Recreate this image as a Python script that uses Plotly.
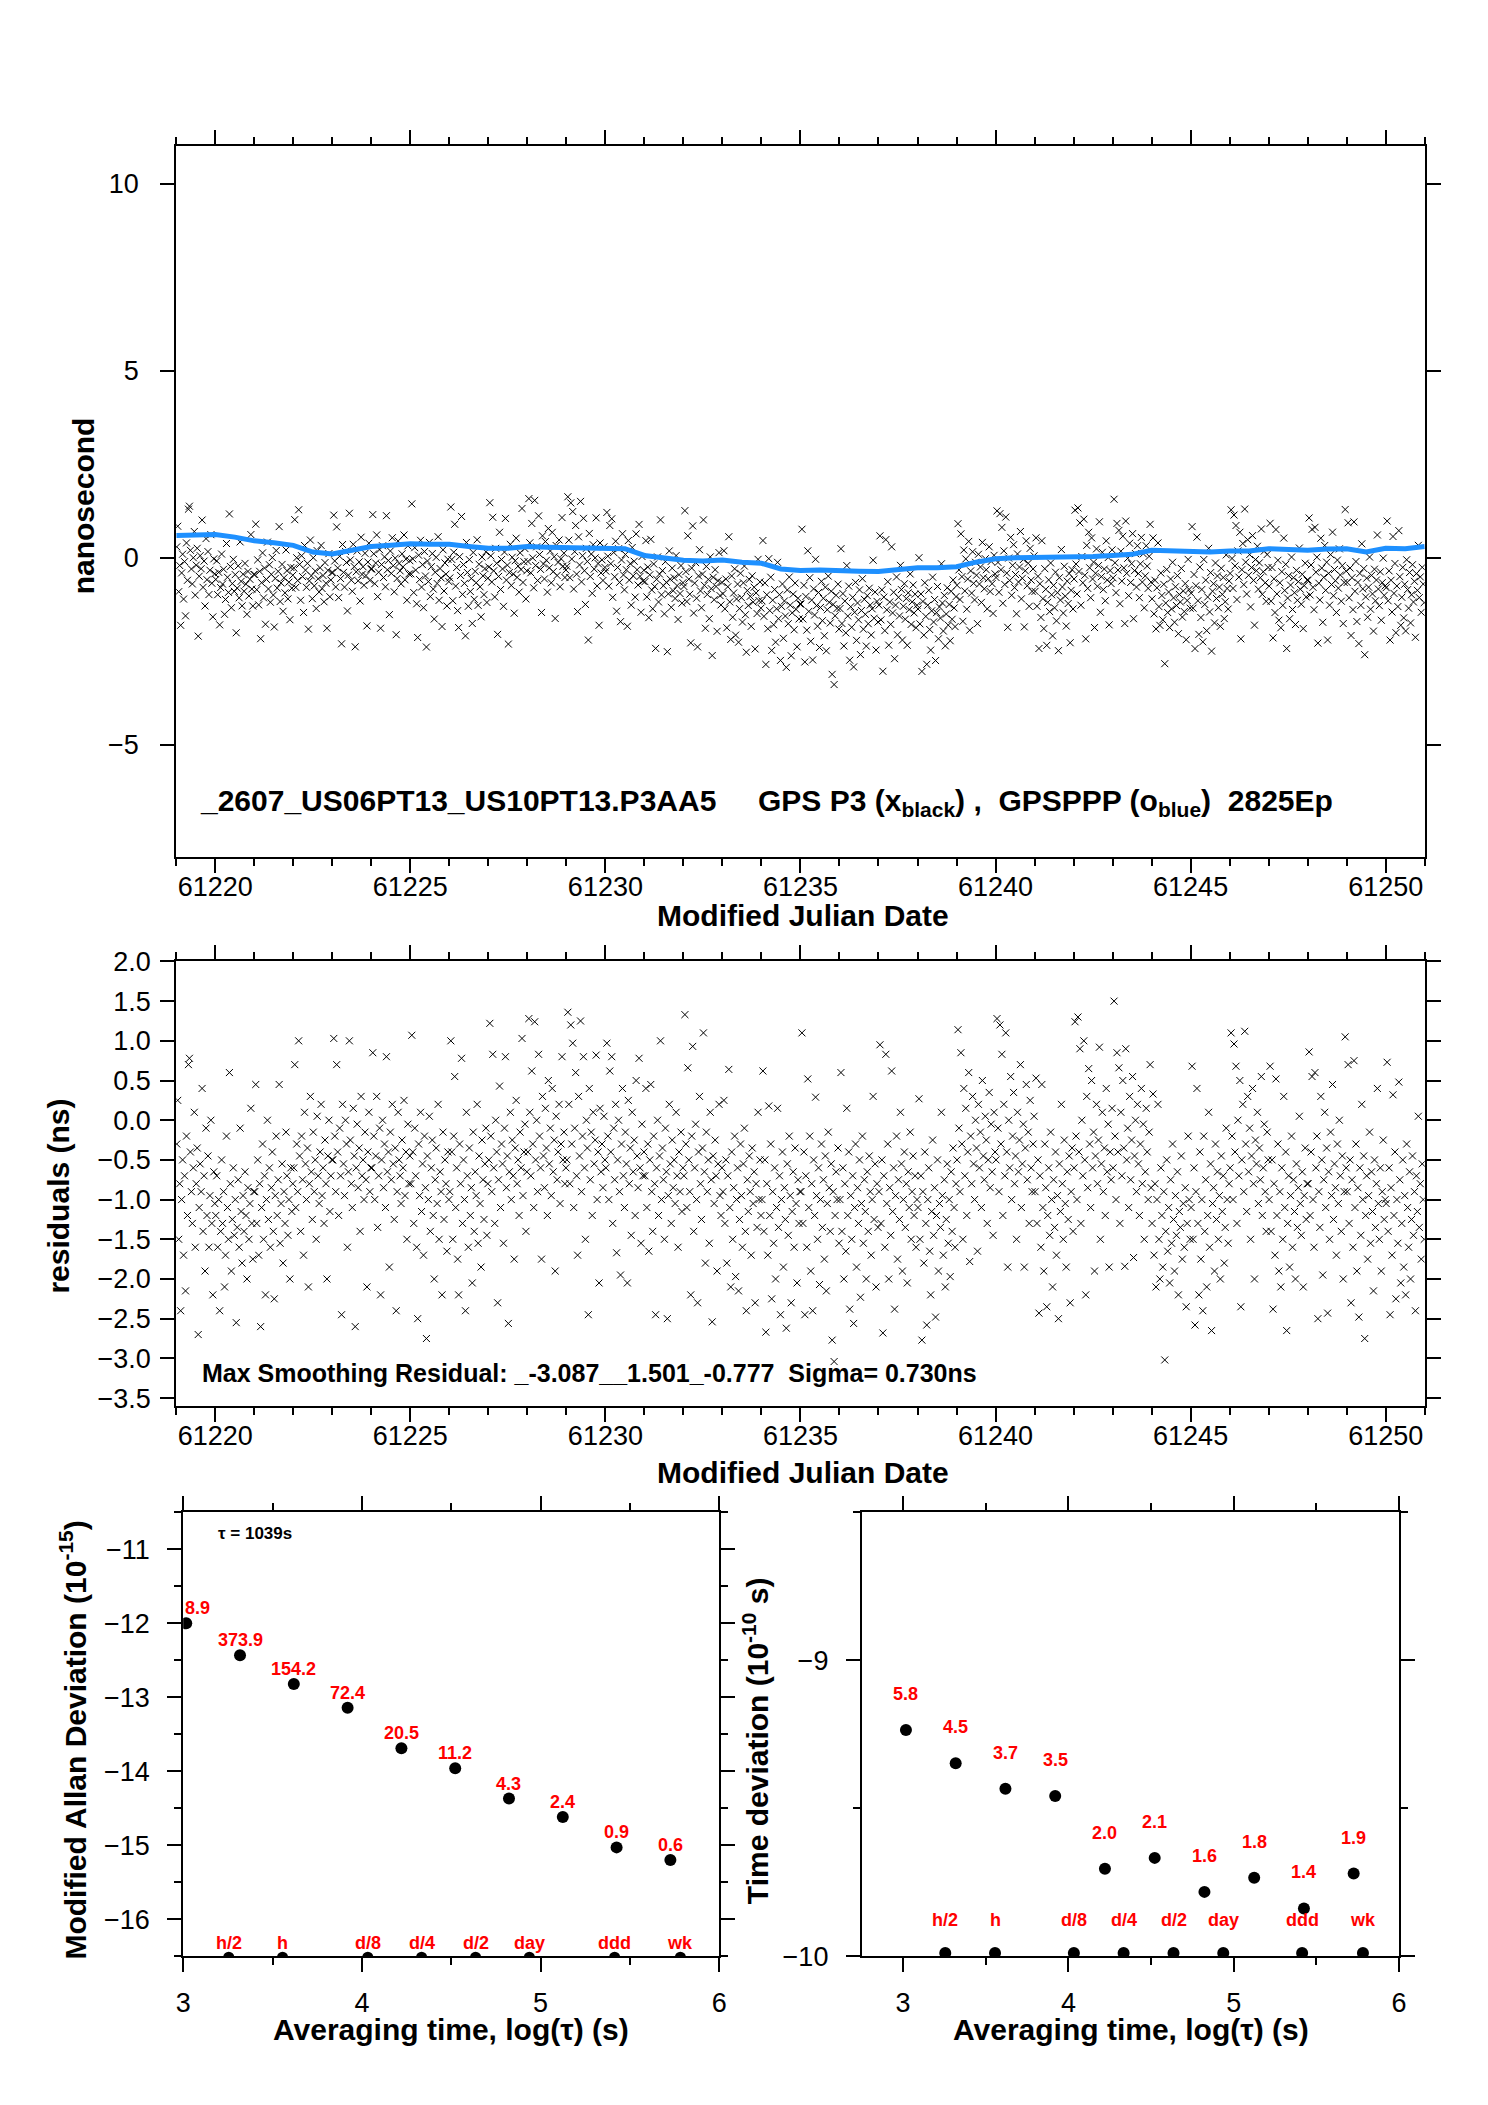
import numpy as np
import plotly.graph_objects as go

# ---------------- data ----------------
mjd_start, mjd_end = 61219.0, 61251.0

# smoothing (GPSPPP, blue) every half day, ns
smooth_mjd = [61219 + 0.5 * k for k in range(65)]
smooth_ns = [0.59, 0.60, 0.62, 0.55, 0.45, 0.40, 0.33, 0.15, 0.10, 0.20,
             0.30, 0.33, 0.37, 0.36, 0.36, 0.30, 0.25, 0.25, 0.30, 0.28,
             0.27, 0.25, 0.24, 0.24, 0.06, 0.00, -0.07, -0.09, -0.06, -0.12,
             -0.15, -0.30, -0.34, -0.33, -0.36, -0.36, -0.37, -0.31, -0.27, -0.27,
             -0.24, -0.12, -0.03, 0.00, 0.00, 0.01, 0.03, 0.03, 0.06, 0.09,
             0.20, 0.18, 0.15, 0.15, 0.18, 0.18, 0.24, 0.22, 0.20, 0.23,
             0.24, 0.15, 0.25, 0.24, 0.30]

# smoothing residuals (ns), one row per day 61219 ... 61250
residual_ns = [
    -0.3, 0.25, -1.5, -0.8, -2.4, -1.0, -0.5, -1.7, -0.7, -2.15, -0.2, -1.2, 0.7, 0.78, -0.4, -0.9, -1.3, -0.6, 0.1, -1.6, -0.8, -0.35, -2.7, -1.1, -0.55, -0.9, 0.4, -1.4, -0.7, -1.9, -0.1, -1.2, -0.45, -1.6, -0.95, 0.0, -1.3, -2.2, -0.65, -1.05,
    -1.2, -0.7, -1.6, -1.0, -2.4, -1.4, -0.5, -1.3, -0.9, -2.1, -1.7, -0.2, -1.1, -1.5, 0.6, -0.8, -1.9, -1.25, -0.6, -1.45, -1.0, -2.55, -1.35, -0.75, -1.6, -0.1, -1.15, -1.8, -0.95, -1.4, -0.65, -1.2, -2.0, -0.85, -1.5, -1.05, 0.15, -1.3, -1.75, -0.9,
    -0.9, 0.45, -1.3, -0.5, -1.7, -0.8, -2.6, -1.1, -0.3, -1.5, -0.7, -2.2, -1.0, 0.0, -1.25, -0.6, -1.6, -0.85, -0.4, -1.4, -2.25, -0.95, -0.2, -1.2, -0.75, 0.45, -1.55, -1.05, -0.55, -1.8, -0.9, -1.3, -0.15, -0.7, -1.45, -1.0, -2.0, -0.6, -1.15, -0.8,
    -0.6, 0.7, -1.1, -0.3, -0.9, 1.0, -0.45, -1.4, -0.2, -0.75, -1.7, 0.1, -0.55, -1.0, -0.35, -2.1, -0.8, 0.3, -0.65, -1.25, -0.15, -0.9, -0.5, -1.5, 0.05, -0.7, -1.05, -0.4, 0.2, -0.95, -0.6, -1.3, -0.25, -0.8, -2.0, -0.45, 0.0, -1.15, -0.7, -0.5,
    -0.5, 1.03, -0.2, -0.9, 0.7, -0.4, -1.2, -0.1, -0.7, -2.45, 0.2, -0.55, -0.95, 0.0, -0.3, -1.6, -0.65, 1.0, -0.25, -0.8, -1.1, 0.15, -0.45, -2.6, -0.6, -0.05, -0.85, -0.35, -1.4, 0.3, -0.7, -0.5, -1.0, -0.15, -0.75, -2.1, -0.4, 0.1, -0.9, -0.6,
    -0.6, 0.85, -0.2, -1.0, -0.45, 0.3, -1.35, -0.7, -0.1, -2.2, -0.5, 0.0, -0.85, -0.3, -1.1, 0.8, -0.65, -0.4, -1.85, -0.15, -0.75, 0.2, -0.55, -1.25, -0.35, -2.4, -0.9, 0.1, -0.5, -0.7, -1.05, -0.25, -0.6, 0.25, -0.95, -0.4, -1.5, -0.05, -0.8, -0.45,
    -0.8, 1.07, -0.4, -1.3, -0.1, -0.7, -1.6, -2.5, -0.3, -0.95, 0.1, -1.15, -0.55, -1.7, -0.2, -0.85, -2.75, -0.45, -1.0, 0.05, -1.4, -0.6, -0.25, -1.2, -2.0, -0.75, -0.35, -1.05, 0.2, -1.5, -0.65, -0.9, -2.2, -0.15, -1.25, -0.5, -0.8, -1.65, -0.4, -1.0,
    -0.9, 1.0, -0.4, -1.5, -0.2, 0.55, -1.1, -0.6, -1.75, -2.2, -0.3, -0.8, 0.78, -1.3, -0.5, -1.0, -2.4, 0.1, -0.7, -1.6, -0.35, -1.2, -0.85, -2.05, -0.15, -1.4, -0.65, -0.95, 0.2, -1.55, -0.45, -1.05, -1.85, -0.25, -0.75, -1.25, -0.55, -0.1, -1.45, -0.8,
    -0.5, 1.22, -0.2, -0.9, 0.83, -0.6, -1.3, 0.0, -0.4, -2.3, -0.75, 0.43, -1.1, -0.3, -0.55, -1.55, -0.1, 0.8, -0.85, -0.45, -2.56, -0.65, 0.1, -1.0, -0.25, -0.7, -1.75, -0.35, 0.25, -0.8, -0.5, -1.2, -0.15, -0.6, 1.03, -0.95, -0.4, -0.05, -1.4, -0.65,
    -0.4, 1.28, 0.1, -0.7, 0.62, -0.3, -1.1, 1.24, -0.5, 0.0, -0.9, 0.83, -0.2, -0.6, -1.75, 0.3, -0.45, -0.85, 0.15, -0.35, -1.2, 0.5, -0.55, -0.1, -0.95, 0.4, -0.65, -0.25, -1.9, 0.05, -0.75, -0.4, 0.2, -1.05, -0.3, 0.8, -0.5, -0.15, -0.8, -0.6,
    -0.5, 1.36, 0.2, -0.8, 1.2, -0.3, 0.97, -1.1, -0.1, 0.6, -0.7, -1.7, 0.3, -0.45, 1.25, -0.9, -0.2, 0.8, -0.6, -1.5, 0.0, -0.35, -2.45, 0.4, -0.75, -0.15, -1.2, 0.1, -0.55, -0.25, 0.82, -1.0, -0.4, -2.05, 0.15, -0.65, -0.3, -0.85, 0.05, -0.5,
    -0.6, 0.97, -0.2, -1.0, 0.62, -0.4, 0.8, -1.3, -0.1, -0.75, 0.2, -1.67, -0.5, 0.0, -0.9, -1.95, -0.3, 0.4, -0.7, -1.1, -0.15, -0.55, -2.05, 0.25, -0.8, -0.35, -1.45, 0.1, -0.65, -0.25, -1.2, 0.5, -0.45, -0.85, 0.78, -0.6, -1.55, -0.05, -0.7, -0.4,
    -0.7, 0.4, -1.1, -0.3, -1.65, -0.5, 0.45, -0.9, -1.4, -0.2, -0.8, -2.45, -0.6, 0.0, -1.2, -0.45, 1.0, -1.0, -0.35, -0.75, -1.5, -0.1, -0.65, -2.5, -0.95, 0.2, -0.55, -1.3, -0.25, -0.85, -0.5, -1.05, 0.1, -0.7, -1.6, -0.4, -0.9, -0.15, -1.15, -0.6,
    -0.7, 1.33, -0.3, -1.1, 0.66, -0.5, -0.9, -2.2, -0.2, 0.93, -1.4, -0.6, -0.05, -1.0, -2.3, -0.4, 0.3, -0.8, -1.25, -0.35, 1.1, -0.65, -1.8, -0.15, -0.9, -0.5, -1.55, 0.1, -0.75, -2.54, -0.45, -1.05, -0.25, -0.7, -1.9, -0.55, 0.2, -0.95, -1.2, -0.6,
    -0.9, 0.25, -1.3, -0.5, -1.8, -0.7, 0.64, -1.1, -2.1, -0.4, -1.5, -0.85, -0.2, -1.97, -1.0, -0.6, -2.15, -1.25, -0.3, -0.95, -1.6, -0.55, -0.1, -1.4, -2.4, -0.75, -1.15, -0.45, -0.9, -1.7, -0.35, -1.05, -0.65, -2.3, -0.8, -1.35, 0.1, -1.0, -0.5, -1.2,
    -1.0, 0.62, -1.4, -0.5, -2.67, -0.8, -1.7, 0.18, -1.2, -0.3, -2.25, -0.9, -1.55, -0.6, -2.0, -1.1, 0.15, -1.35, -0.7, -2.45, -1.0, -0.4, -1.85, -0.85, -1.25, -2.62, -0.55, -1.45, -0.2, -0.95, -2.3, -1.15, -0.65, -1.6, -0.35, -1.05, -2.05, -0.75, -1.3, -0.9,
    -0.9, 1.1, -1.3, -0.4, -2.45, -0.7, -1.6, 0.52, -1.1, -0.2, -1.9, -0.8, -2.4, -0.5, -1.2, 0.29, -0.95, -1.5, -0.6, -2.07, -1.0, -0.3, -1.35, -0.75, -1.75, -0.45, -2.15, -1.05, -0.15, -0.85, -1.4, -0.55, -2.77, -0.9, -3.04, -1.2, -0.65, -1.0, -0.35, -1.55,
    -1.0, 0.6, -1.4, -0.6, -2.0, -0.8, -1.65, 0.15, -1.2, -0.4, -2.38, -0.95, -1.5, -0.7, -2.56, -1.1, -0.3, -1.85, -0.85, -1.3, -0.5, -2.23, -1.05, -0.2, -1.55, -0.75, -1.15, -2.0, -0.65, -1.4, -0.45, -0.9, -1.7, -1.0, 0.3, -1.25, -0.55, -2.1, -0.8, -1.35,
    -0.9, 0.95, -1.3, -0.5, -2.68, -0.7, -1.6, 0.83, -1.05, -0.3, -2.0, -0.85, -1.45, 0.62, -1.15, -0.6, -2.38, -0.95, -0.2, -1.75, -0.75, -1.25, 0.1, -0.55, -1.9, -1.0, -0.4, -1.35, -0.8, -2.05, -0.65, -1.1, -0.15, -1.5, -0.9, -0.45, -1.2, -0.7, -1.6, -1.0,
    -1.1, 0.27, -1.5, -0.7, -2.77, -0.9, -1.8, -0.4, -1.3, -2.58, -1.0, -0.6, -1.65, -2.2, -1.15, -0.25, -1.45, -0.85, -2.48, -1.2, -0.5, -1.9, -1.05, -1.35, 0.1, -0.95, -1.7, -0.75, -2.1, -1.25, -0.55, -1.55, -1.0, -1.97, -0.65, -1.4, -0.35, -1.1, -1.6, -0.8,
    -0.5, 1.14, -0.1, -0.9, 0.85, -0.3, -1.5, 0.4, -0.7, 0.15, -1.2, -0.4, 0.6, -1.78, -0.2, -0.8, 0.3, -0.55, -1.0, 0.0, -0.35, -1.65, 0.2, -0.6, -0.15, -1.1, 0.5, -0.45, -0.75, 0.05, -0.25, -1.3, -0.5, 0.35, -0.85, -0.05, -0.65, -1.45, 0.1, -0.4,
    -0.5, 1.28, -0.1, -0.9, 1.2, -0.3, 0.83, -1.2, 0.2, -0.7, 1.1, -0.4, -1.85, 0.0, -0.6, 0.55, -1.0, -0.2, 0.35, -0.8, -0.45, -1.5, 0.1, -0.65, -0.25, 0.7, -1.1, -0.55, -0.05, -1.85, -0.35, 0.45, -0.75, -0.15, -1.3, 0.25, -0.6, -0.9, -0.3, 0.05,
    -0.9, 0.53, -1.3, -0.5, -2.43, -0.7, -1.6, 0.45, -1.1, -1.9, -0.3, -0.85, -2.35, -1.2, -0.6, -1.45, -0.15, -1.0, -2.1, -0.75, -1.35, -0.4, -1.7, -0.95, -2.5, -0.55, -1.15, 0.2, -0.8, -1.5, -0.25, -1.05, -1.85, -0.65, -1.25, -0.45, -2.3, -0.9, -0.35, -1.4,
    -0.6, 1.24, -0.2, -1.0, 1.3, -0.4, 0.9, -1.3, 0.0, -0.7, 1.0, -0.5, -2.2, 0.3, -0.85, 0.65, -0.3, -1.1, 0.5, -0.6, -0.15, -1.9, -0.45, 0.2, -0.8, -0.25, 0.92, -1.5, -0.55, 0.1, -0.9, -0.35, -1.2, 0.4, -0.65, -0.05, -1.85, -0.4, -0.75, 0.15,
    -0.6, 1.5, -0.2, -1.0, 0.85, -0.4, 0.66, -1.3, 0.1, -0.7, 0.5, -0.35, -1.84, 0.9, -0.5, -0.1, -1.1, 0.3, -0.75, -0.25, 0.55, -1.73, -0.45, 0.0, -0.9, 0.2, -0.55, -1.2, -0.3, 0.4, -0.8, -0.05, -1.5, -0.65, 0.15, -0.4, -1.0, -0.15, 0.7, -0.85,
    -1.3, 0.33, -1.7, -0.8, -2.1, -1.0, 0.2, -1.5, -2.0, -0.6, -1.2, -1.85, -0.9, -3.02, -1.4, -0.5, -1.65, -1.1, -2.05, -0.75, -1.55, -0.3, -1.25, -1.9, -0.95, -1.45, -0.65, -2.2, -1.15, -1.35, -0.45, -1.75, -1.05, -1.6, -0.85, -2.35, -1.3, -0.2, -1.0, -1.5,
    -1.1, 0.68, -1.5, -0.6, -2.58, -0.9, 0.4, -1.3, -2.2, -0.4, -1.75, -1.0, -2.4, -0.2, -1.4, -0.75, -2.1, -1.2, 0.1, -1.6, -0.55, -2.65, -1.05, -0.85, -1.9, -0.3, -1.25, -0.65, -1.5, -0.95, -2.0, -0.45, -1.15, -0.7, -1.8, -1.35, -0.1, -1.0, -1.55, -0.8,
    -0.6, 1.1, -0.2, -1.0, 0.96, -0.4, 0.68, -1.3, 0.0, -0.7, 0.5, -2.35, -0.5, 0.2, -0.9, 1.12, -0.3, -1.15, 0.3, -0.65, -0.1, -1.5, -0.45, 0.4, -0.8, -2.0, -0.25, -0.55, 0.1, -1.05, -0.35, -0.75, 0.55, -1.2, -0.6, -0.05, -0.9, -1.4, -0.15, -0.5,
    -1.0, 0.68, -1.4, -0.5, -2.38, -0.8, -1.7, 0.52, -1.2, -0.3, -1.9, -0.9, -2.1, -0.6, -1.5, 0.3, -1.1, -0.4, -2.65, -1.3, -0.7, -1.85, -0.95, -0.2, -1.6, -0.75, -1.15, -2.0, -0.55, -1.35, -0.85, 0.05, -1.05, -1.45, -0.65, -2.1, -0.95, -0.35, -1.25, -0.8,
    -0.8, 0.86, -1.2, -0.4, 0.55, -1.0, -1.6, 0.6, -0.6, -0.2, -2.5, -0.9, -1.35, 0.3, -0.5, -1.95, -0.75, 0.1, -1.1, -0.35, -2.43, -0.65, -1.5, -0.15, -0.95, 0.45, -1.25, -0.55, -0.85, -1.7, -0.3, -1.05, 0.0, -0.7, -1.4, -0.45, -2.0, -0.9, 1.05, -0.6,
    -0.9, 0.7, -1.3, -0.5, -2.3, -0.75, -1.6, 0.75, -1.1, -0.3, -1.9, -0.85, -2.48, -0.6, -1.45, 0.2, -1.0, -0.45, -2.75, -1.2, -0.7, -1.75, -0.95, -0.15, -1.55, -0.65, -1.15, -2.15, -0.5, -1.35, -0.8, 0.4, -1.05, -1.5, -0.6, -1.9, -0.9, -0.25, -1.25, -1.0,
    -1.05, 0.73, -1.4, -0.6, -2.45, -0.85, -1.7, 0.32, -1.2, -0.4, -2.25, -1.0, -1.55, 0.48, -0.75, -2.05, -1.3, -0.5, -1.85, -0.95, -2.2, -0.3, -1.1, -1.6, -0.65, -2.0, -1.25, -0.45, -1.45, -0.9, -2.4, -0.7, -1.15, 0.05, -1.35, -0.8, -1.75, -0.55, -1.0, -1.5,
]

# stability analysis (log10 tau)
log_tau = [3.017, 3.318, 3.619, 3.920, 4.221, 4.522, 4.823, 5.124, 5.425, 5.726]
log_mdev = [-12.0, -12.43, -12.82, -13.14, -13.69, -13.96, -14.37, -14.62, -15.03, -15.20]
mdev_labels = ["8.9", "373.9", "154.2", "72.4", "20.5", "11.2", "4.3", "2.4", "0.9", "0.6"]
log_tdev = [-9.236, -9.348, -9.434, -9.459, -9.705, -9.668, -9.783, -9.735, -9.839, -9.721]
tdev_labels = ["5.8", "4.5", "3.7", "3.5", "2.0", "2.1", "1.6", "1.8", "1.4", "1.9"]

mark_names = ["h/2", "h", "d/8", "d/4", "d/2", "day", "ddd", "wk"]
mark_log_tau = [3.255, 3.556, 4.033, 4.334, 4.636, 4.937, 5.414, 5.782]

# ---------------- derived ----------------
resid = np.array(residual_ns)
n_ep = len(resid)
epoch_mjd = mjd_start + (np.arange(n_ep) + 0.5) * (mjd_end - mjd_start) / n_ep
p3_ns = resid + np.interp(epoch_mjd, smooth_mjd, smooth_ns)   # measured = smoothing + residual

W, H = 1488, 2105
FONT = "Liberation Sans, Arial, Helvetica, sans-serif"


def px(x0, x1):
    return [x0 / W, x1 / W]


def py(y0, y1):
    return [1 - y1 / H, 1 - y0 / H]


fig = go.Figure()

xmark = dict(symbol="x-thin", size=7, color="black", line=dict(width=1, color="black"))

fig.add_trace(go.Scatter(x=epoch_mjd, y=p3_ns, mode="markers", marker=xmark,
                         xaxis="x", yaxis="y", hoverinfo="skip"))
fig.add_trace(go.Scatter(x=smooth_mjd, y=smooth_ns, mode="lines",
                         line=dict(color="#1E90FF", width=5),
                         xaxis="x", yaxis="y", hoverinfo="skip"))
fig.add_trace(go.Scatter(x=epoch_mjd, y=resid, mode="markers", marker=xmark,
                         xaxis="x2", yaxis="y2", hoverinfo="skip"))

fig.add_trace(go.Scatter(x=log_tau, y=log_mdev, mode="markers",
                         marker=dict(color="black", size=12),
                         xaxis="x3", yaxis="y3"))
fig.add_trace(go.Scatter(x=mark_log_tau, y=[-16.515] * len(mark_log_tau), mode="markers",
                         marker=dict(color="black", size=11),
                         xaxis="x3", yaxis="y3"))
fig.add_trace(go.Scatter(x=log_tau, y=log_tdev, mode="markers",
                         marker=dict(color="black", size=12),
                         xaxis="x4", yaxis="y4"))
fig.add_trace(go.Scatter(x=mark_log_tau, y=[-9.99] * len(mark_log_tau), mode="markers",
                         marker=dict(color="black", size=12),
                         xaxis="x4", yaxis="y4"))

tickfont = dict(family=FONT, size=27, color="black")
common = dict(showline=True, linewidth=2, linecolor="black", mirror="allticks",
              ticks="outside", ticklen=14, tickwidth=2, tickcolor="black",
              showgrid=False, zeroline=False, tickfont=tickfont, fixedrange=True)

mjd_axis = dict(common, range=[mjd_start, mjd_end], tick0=61220, dtick=5, tickformat="d",
                minor=dict(dtick=1, tick0=61220, ticks="outside", ticklen=7,
                           tickwidth=2, tickcolor="black", showgrid=False),
                ticklabelstandoff=-9)
tau_minor = dict(dtick=0.5, tick0=3, ticks="outside", ticklen=7, tickwidth=2,
                 tickcolor="black", showgrid=False)

fig.update_layout(
    width=W, height=H,
    margin=dict(l=0, r=0, t=0, b=0),
    paper_bgcolor="white", plot_bgcolor="white",
    showlegend=False,
    font=dict(family=FONT, color="black"),
    xaxis=dict(mjd_axis, domain=px(162, 1424), anchor="y"),
    yaxis=dict(common, domain=py(125, 846), range=[-8, 11], tick0=0, dtick=5,
               anchor="x", ticklabelstandoff=16),
    xaxis2=dict(mjd_axis, domain=px(162, 1424), anchor="y2"),
    yaxis2=dict(common, domain=py(952, 1403), range=[-3.6, 2.0], tick0=0, dtick=0.5,
                tickformat=".1f", anchor="x2", ticklabelstandoff=4),
    xaxis3=dict(common, domain=px(169, 711), range=[3, 6], tick0=3, dtick=1,
                minor=tau_minor, anchor="y3", ticklabelstandoff=8),
    yaxis3=dict(common, domain=py(1511, 1961), range=[-16.5, -10.5], tick0=-16, dtick=1,
                minor=dict(tau_minor, tick0=-16), anchor="x3", ticklabelstandoff=12),
    xaxis4=dict(common, domain=px(855, 1398), range=[2.75, 6], tick0=3, dtick=1,
                minor=tau_minor, anchor="y4", ticklabelstandoff=8),
    yaxis4=dict(common, domain=py(1511, 1961), range=[-10, -8.5], tick0=-10, dtick=1,
                minor=dict(tau_minor, tick0=-10), anchor="x4", ticklabelstandoff=12),
)

ann = []


def paper_text(text, x, y, size=30, angle=0):
    ann.append(dict(text=text, x=x / W, y=1 - y / H, xref="paper", yref="paper",
                    showarrow=False, textangle=angle, xanchor="center", yanchor="middle",
                    font=dict(family=FONT, size=size, color="black")))


paper_text("<b>nanosecond</b>", 68, 490, angle=-90)
paper_text("<b>Modified Julian Date</b>", 796, 905)
paper_text("<b>residuals (ns)</b>", 42, 1190, angle=-90)
paper_text("<b>Modified Julian Date</b>", 796, 1470)
paper_text("<b>Modified Allan Deviation (10<sup>-15</sup>)</b>", 58, 1742, angle=-90)
paper_text("<b>Time deviation (10<sup>-10</sup> s)</b>", 748, 1742, angle=-90)
paper_text("<b>Averaging time, log(\u03c4) (s)</b>", 440, 2036)
paper_text("<b>Averaging time, log(\u03c4) (s)</b>", 1127, 2036)

sp = "\u00a0"
ann.append(dict(text="<b>_2607_US06PT13_US10PT13.P3AA5" + sp * 5 + "GPS P3 (x<sub>black</sub>) ," + sp * 2
                + "GPSPPP (o<sub>blue</sub>)" + sp * 2 + "2825Ep</b>",
                x=61219.57, y=-6.54, xref="x", yref="y", showarrow=False,
                xanchor="left", yanchor="middle", font=dict(family=FONT, size=30, color="black")))
ann.append(dict(text="<b>Max Smoothing Residual: _-3.087__1.501_-0.777" + sp * 2 + "Sigma= 0.730ns</b>",
                x=61219.6, y=-3.18, xref="x2", yref="y2", showarrow=False,
                xanchor="left", yanchor="middle", font=dict(family=FONT, size=25, color="black")))
ann.append(dict(text="<b>\u03c4 = 1039s</b>", x=3.40, y=-10.79, xref="x3", yref="y3",
                showarrow=False, font=dict(family=FONT, size=17, color="black")))

red = dict(family=FONT, size=18, color="red")
for i, (xv, yv, lab) in enumerate(zip(log_tau, log_mdev, mdev_labels)):
    ann.append(dict(text="<b>" + lab + "</b>", x=3.0 if i == 0 else xv, y=yv,
                    xref="x3", yref="y3", showarrow=False, yshift=15,
                    xanchor="left" if i == 0 else "center", font=red))
for xv, yv, lab in zip(log_tau, log_tdev, tdev_labels):
    ann.append(dict(text="<b>" + lab + "</b>", x=xv, y=yv, xref="x4", yref="y4",
                    showarrow=False, yshift=36, font=red))
for xv, lab in zip(mark_log_tau, mark_names):
    ann.append(dict(text="<b>" + lab + "</b>", x=xv, y=-16.33, xref="x3", yref="y3",
                    showarrow=False, font=red))
    ann.append(dict(text="<b>" + lab + "</b>", x=xv, y=-9.877, xref="x4", yref="y4",
                    showarrow=False, font=red))

fig.update_layout(annotations=ann)

fig.write_html("out.html")
